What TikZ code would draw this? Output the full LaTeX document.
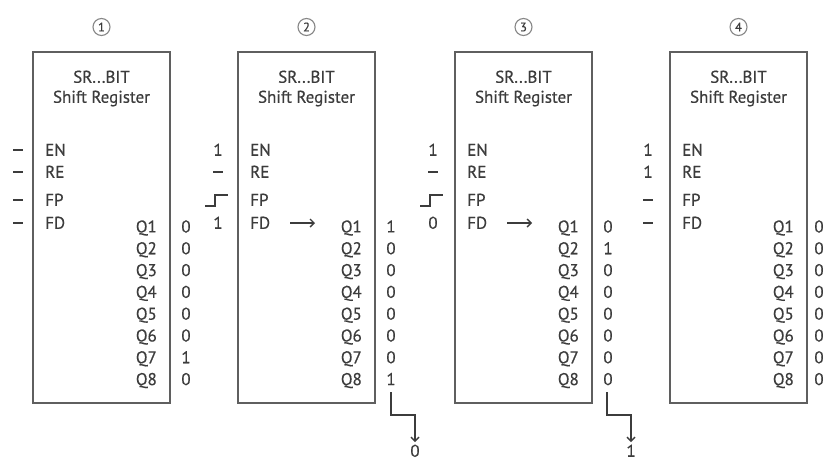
\documentclass[tikz,border=0pt]{standalone}
\usepackage{fontspec}
\newfontfamily\lblfont{PT Sans}[FakeBold=0.5]
\usetikzlibrary{arrows.meta}
\definecolor{txt}{RGB}{60,60,60}
\definecolor{edge}{RGB}{95,95,95}
\newcommand\myvaloff{153}
\newcommand\srbox[4]{%
  \node[box] (#1) at ({#2+68.5},227.5) {};
  \node[circ] (#1n) at ({#2+68.5},27) {#3};
  \node[lbl] (#1ta) at ({#2+68.5},77) {SR...BIT};
  \node[lbl] (#1tb) at ({#2+68.5},97) {Shift Register};
  \node[lbl,anchor=west] (#1en) at ({#2+12},150) {EN};
  \node[lbl,anchor=west] (#1re) at ({#2+12},172) {RE};
  \node[lbl,anchor=west] (#1fp) at ({#2+12},200) {FP};
  \node[lbl,anchor=west] (#1fd) at ({#2+12},223) {FD};
  \foreach \v [count=\i] in {#4} {
    \node[lbl,anchor=east] (#1q\i) at ({#2+124},{226.7+21.8*(\i-1)}) {Q\i};
    \node[lbl] (#1v\i) at ({#2+\myvaloff},{226.7+21.8*(\i-1)}) {\v};
  }%
}
\newcommand\nilmark[2]{\draw[nil] ({#1-5},#2) -- ({#1+5},#2);}
\newcommand\stepmark[2]{\draw[sig] ({#1-13},{#2+6}) -- ({#1-3},{#2+6}) -- ({#1-3},{#2-5}) -- ({#1+10},{#2-5});}
\begin{document}
\begin{tikzpicture}[x=1pt,y=-1pt,
  box/.style={draw=edge,line width=1.8pt,minimum width=137pt,minimum height=351pt,inner sep=0},
  lbl/.style={font=\lblfont\fontsize{17}{19}\selectfont,text=txt,inner sep=0,text height=11.5pt,text depth=0pt},
  circ/.style={draw=edge!75,circle,line width=1.1pt,minimum size=17pt,inner sep=0,font=\lblfont\fontsize{12.5}{13}\selectfont,text=txt},
  nil/.style={draw=txt,line width=2.4pt},
  sig/.style={draw=txt,line width=1.4pt},
  conn/.style={draw=txt,line width=1.4pt,-{Straight Barb[length=4pt,width=8pt]}},
]
\useasboundingbox (0,0) rectangle (826,461);
\clip (0,0) rectangle (826,461);
\fill[white] (0,0) rectangle (826,461);

% box 1
\srbox{b1}{33}{1}{0,0,0,0,0,0,1,0}
\nilmark{18}{150}
\nilmark{18}{172}
\nilmark{18}{200}
\nilmark{18}{223}

% box 2
\srbox{b2}{238}{2}{1,0,0,0,0,0,0,1}
\node[lbl] (b2in1) at (218,150) {1};
\nilmark{218}{172}
\stepmark{218}{200}
\node[lbl] (b2in4) at (218,223) {1};
\coordinate (b2a0) at (290,223);
\coordinate (b2a1) at (315,223);
\draw[conn] (b2a0) -- (b2a1);
\coordinate (b2s) at (391,392);
\node[lbl] (b2o) at (415,451) {0};
\draw[conn] (b2s) -- ++(0,23) -| ([yshift=3pt]b2o.north);

% box 3
\srbox{b3}{455}{3}{0,1,0,0,0,0,0,0}
\node[lbl] (b3in1) at (433,150) {1};
\nilmark{433}{172}
\stepmark{433}{200}
\node[lbl] (b3in4) at (433,223) {0};
\coordinate (b3a0) at (507,223);
\coordinate (b3a1) at (532,223);
\draw[conn] (b3a0) -- (b3a1);
\coordinate (b3s) at (607,392);
\node[lbl] (b3o) at (631,451) {1};
\draw[conn] (b3s) -- ++(0,23) -| ([yshift=3pt]b3o.north);

% box 4
\renewcommand\myvaloff{149}
\srbox{b4}{670}{4}{0,0,0,0,0,0,0,0}
\node[lbl] (b4in1) at (648,150) {1};
\node[lbl] (b4in2) at (648,172) {1};
\nilmark{648}{200}
\nilmark{648}{223}
\end{tikzpicture}
\end{document}
